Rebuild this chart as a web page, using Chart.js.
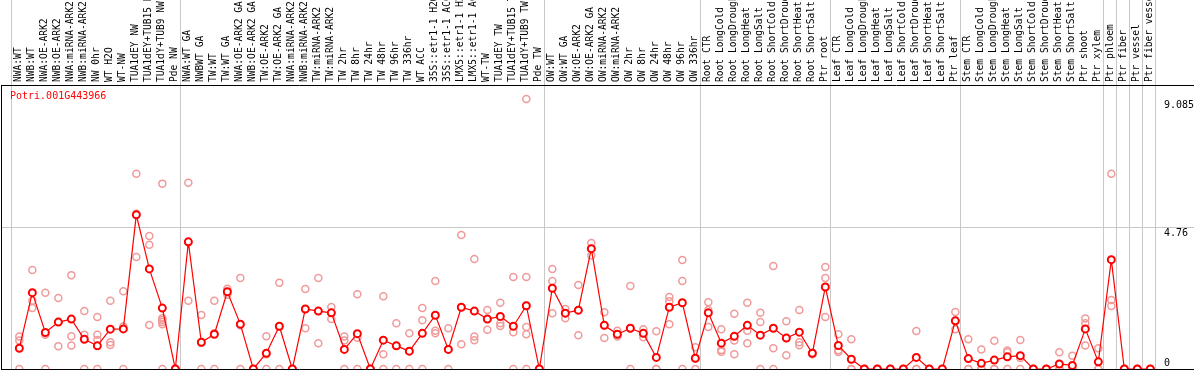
<!DOCTYPE html>
<html>
<head>
<meta charset="utf-8">
<script src="https://cdn.jsdelivr.net/npm/chart.js@4.4.0/dist/chart.umd.min.js"></script>
<style>
  html, body { margin: 0; padding: 0; background: #ffffff; }
  #contenedor { width: 1194px; height: 370px; }
</style>
</head>
<body>
<div id="contenedor"><canvas id="grafico" width="1194" height="370"></canvas></div>
<script>
// Gen mostrado
const gen = "Potri.001G443966";

// Nombres de las muestras (eje superior)
const muestras = [
  "NWA:WT", "NWB:WT", "NWA:OE-ARK2", "NWB:OE-ARK2", "NWA:miRNA-ARK2", "NWB:miRNA-ARK2",
  "NW 0hr", "WT H2O", "WT-NW", "TUA1dEY NW", "TUA1dEY+TUB15 NW", "TUA1dY+TUB9 NW", "Pde NW",
  "NWA:WT GA", "NWBWT GA", "TW:WT", "TW:WT GA", "NWA:OE-ARK2 GA", "NWB:OE-ARK2 GA",
  "TW:OE-ARK2", "TW:OE-ARK2 GA", "NWA:miRNA-ARK2", "NWB:miRNA-ARK2", "TW:miRNA-ARK2",
  "TW:miRNA-ARK2", "TW 2hr", "TW 8hr", "TW 24hr", "TW 48hr", "TW 96hr", "TW 336hr", "WT ACC",
  "35S::etr1-1 H2O", "35S::etr1-1 ACC", "LMX5::etr1-1 H2O", "LMX5::etr1-1 ACC", "WT-TW",
  "TUA1dEY TW", "TUA1dEY+TUB15 TW", "TUA1dY+TUB9 TW", "Pde TW",
  "OW:WT", "OW:WT GA", "OW:OE-ARK2", "OW:OE-ARK2 GA", "OW:miRNA-ARK2", "OW:miRNA-ARK2",
  "OW 2hr", "OW 8hr", "OW 24hr", "OW 48hr", "OW 96hr", "OW 336hr",
  "Root CTR", "Root LongCold", "Root LongDrought", "Root LongHeat", "Root LongSalt",
  "Root ShortCold", "Root ShortDrought", "Root ShortHeat", "Root ShortSalt", "Ptr root",
  "Leaf CTR", "Leaf LongCold", "Leaf LongDrought", "Leaf LongHeat", "Leaf LongSalt",
  "Leaf ShortCold", "Leaf ShortDrought", "Leaf ShortHeat", "Leaf ShortSalt", "Ptr leaf",
  "Stem CTR", "Stem LongCold", "Stem LongDrought", "Stem LongHeat", "Stem LongSalt",
  "Stem ShortCold", "Stem ShortDrought", "Stem ShortHeat", "Stem ShortSalt", "Ptr shoot",
  "Ptr xylem", "Ptr phloem", "Ptr fiber", "Ptr vessel", "Ptr fiber vessel"
];

// Promedio por muestra (linea roja)
const promedio = [
  0.70, 2.57, 1.23, 1.58, 1.68, 1.00, 0.78, 1.34, 1.35, 5.19, 3.37, 2.05, 0,
  4.28, 0.90, 1.17, 2.60, 1.51, 0, 0.53, 1.44, 0, 2.02, 1.95, 1.89, 0.66, 1.19, 0,
  0.97, 0.78, 0.60, 1.20, 1.81, 0.66, 2.08, 1.95, 1.68, 1.77, 1.44, 2.13, 0,
  2.72, 1.88, 1.98, 4.05, 1.47, 1.17, 1.37, 1.20, 0.39, 2.08, 2.23, 0.36,
  1.89, 0.87, 1.10, 1.47, 1.14, 1.37, 1.04, 1.24, 0.53, 2.76,
  0.79, 0.33, 0, 0, 0, 0, 0.39, 0, 0, 1.62,
  0.35, 0.19, 0.30, 0.41, 0.45, 0, 0, 0.17, 0.12, 1.35, 0.24,
  3.68, 0, 0, 0
];

// Replicas por muestra (circulos rosados)
const replicas = [
  [1.09, 0.96, 0], [3.33, 2.30, 2.05], [2.57, 1.15, 0], [2.39, 1.58, 0.77], [3.16, 1.10, 0.79],
  [1.95, 1.15, 0], [1.75, 1.15, 0.98, 0], [2.30, 0.90, 0.81], [2.62, 1.43, 0], [6.57, 5.23, 3.77],
  [4.48, 4.18, 1.48], [6.24, 1.71, 1.65, 1.58, 1.51, 0], [0, 0, 0],
  [6.27, 4.27, 2.30], [1.82, 0.88, 0], [2.30, 1.20, 0], [2.70, 2.60, 2.50], [3.06, 1.47, 0],
  [0, 0, 0], [1.10, 0.50, 0], [2.90, 1.42, 0], [0, 0, 0], [2.69, 2.02, 1.37], [3.06, 1.95, 0.87],
  [2.09, 1.89, 1.68], [1.09, 0.96, 0], [2.52, 1.05, 0], [0, 0, 0], [2.45, 0.50, 0], [1.54, 0.78, 0],
  [1.20, 0.60, 0], [2.05, 1.64, 0], [2.96, 1.29, 1.20], [1.37, 0.66, 0], [4.51, 2.08, 0.83],
  [3.70, 1.09, 0.97], [1.99, 1.68, 1.32], [2.23, 1.54, 1.45], [3.10, 1.24, 0],
  [9.085, 3.10, 2.13, 1.41, 1.17, 0], [0, 0, 0],
  [3.37, 2.96, 1.88], [2.02, 1.88, 1.71], [2.83, 1.98, 1.14], [4.24, 4.05, 3.82], [1.91, 1.47, 1.04],
  [1.29, 1.17, 1.09], [2.79, 1.37, 0], [1.34, 1.20, 1.07], [1.27, 0, 0], [2.42, 2.28, 1.51],
  [3.67, 2.96, 0], [0.73, 0.36, 0],
  [2.25, 1.99, 1.41], [1.34, 0.64, 0.58], [1.86, 0.96, 0.50], [2.23, 1.29, 0.87], [1.89, 1.58, 0],
  [3.47, 0.70, 0], [1.61, 1.04, 0.46], [1.99, 0.90, 0.80], [0.55, 0.53, 0.50], [3.43, 3.06, 1.75],
  [1.17, 0.63, 0.57], [1.00, 0, 0], [0, 0, 0], [0, 0, 0], [0, 0, 0], [0, 0, 0], [1.28, 0, 0],
  [0, 0, 0], [0, 0, 0], [1.92, 1.62, 1.34],
  [1.00, 0, 0], [0.66, 0, 0], [0.95, 0, 0], [0.62, 0.56, 0], [0.98, 0.37, 0], [0, 0, 0], [0, 0, 0],
  [0.56, 0, 0], [0.45, 0, 0], [1.70, 1.54, 0.79], [0.70, 0, 0],
  [6.57, 2.32, 2.12], [0, 0, 0], [0, 0, 0], [0, 0, 0]
];

// Indice donde empieza cada grupo de muestras (lineas verticales)
const inicioGrupos = [0, 13, 41, 53, 63, 73, 84, 85, 86, 87, 88];

// Marcas del eje de valores
const yTicks = [0, 4.76, 9.085];
const yTickLabels = ["0", "4.76", "9.085"];

const fuente = "'DejaVu Sans Mono', monospace";
const gris = "#c8c8c8";
const nada = "rgba(0,0,0,0)";

const puntosReplicas = [];
replicas.forEach((vals, i) => {
  vals.forEach(v => puntosReplicas.push({ x: i, y: v }));
});

const lineasGrupo = inicioGrupos.map(g => g - 0.62);
const esLinea = c => c.tick && !Number.isInteger(c.tick.value);

// quitar el relleno que Chart.js reserva para las etiquetas
const sinRelleno = s => {
  s.paddingLeft = 0; s.paddingRight = 0; s.paddingTop = 0; s.paddingBottom = 0;
};

// nombre del gen dentro del area del grafico, arriba a la izquierda
const tituloGen = {
  id: "tituloGen",
  afterDraw(chart) {
    const { ctx, chartArea } = chart;
    ctx.save();
    ctx.font = "10px 'DejaVu Sans Mono'";
    ctx.fillStyle = "#ff0000";
    ctx.textBaseline = "middle";
    ctx.fillText(gen, chartArea.left + 9, chartArea.top + 11);
    ctx.restore();
  }
};

new Chart(document.getElementById("grafico"), {
  data: {
    datasets: [
      {
        type: "line",
        label: gen,
        data: promedio.map((v, i) => ({ x: i, y: v })),
        borderColor: "#ff0000",
        borderWidth: 1.2,
        pointRadius: 3.5,
        pointBorderWidth: 2,
        pointBorderColor: "#ff0000",
        pointBackgroundColor: "#ffffff",
        tension: 0,
        xAxisID: "x",
        yAxisID: "y"
      },
      {
        type: "scatter",
        label: "replicas",
        data: puntosReplicas,
        borderColor: "#f09a9a",
        backgroundColor: nada,
        pointRadius: 3.5,
        pointBorderWidth: 1.5,
        xAxisID: "x",
        yAxisID: "y"
      }
    ]
  },
  plugins: [tituloGen],
  options: {
    responsive: false,
    animation: false,
    devicePixelRatio: 1,
    layout: { padding: 0, autoPadding: false },
    plugins: {
      legend: { display: false },
      tooltip: { enabled: false }
    },
    scales: {
      x: {
        type: "linear",
        position: "top",
        min: -1.41,
        max: 90.36,
        afterBuildTicks: s => {
          s.ticks = muestras.map((m, i) => ({ value: i }))
            .concat(lineasGrupo.map(v => ({ value: v })));
        },
        afterFit: s => { s.height = 85; sinRelleno(s); },
        grid: {
          color: c => esLinea(c) ? gris : nada,
          tickColor: c => esLinea(c) ? gris : nada,
          tickLength: 85,
          lineWidth: 1
        },
        border: { color: "#000000", width: 1 },
        ticks: {
          autoSkip: false,
          minRotation: 90,
          maxRotation: 90,
          padding: -82,
          labelOffset: 10.5,
          color: "#000000",
          font: { family: fuente, size: 9.6 },
          callback: v => Number.isInteger(v) ? muestras[v] : ""
        }
      },
      xAbajo: {
        type: "linear",
        position: "bottom",
        afterFit: s => { s.height = 1; sinRelleno(s); },
        grid: { drawOnChartArea: false, drawTicks: false },
        ticks: { display: false },
        border: { color: "#000000", width: 1 }
      },
      yIzq: {
        type: "linear",
        position: "left",
        afterFit: s => { s.width = 1; sinRelleno(s); },
        grid: { drawOnChartArea: false, drawTicks: false },
        ticks: { display: false },
        border: { color: "#000000", width: 1 }
      },
      y: {
        type: "linear",
        position: "right",
        min: 0,
        max: 9.56,
        afterBuildTicks: s => { s.ticks = yTicks.map(v => ({ value: v })); },
        afterFit: s => { s.width = 0; sinRelleno(s); },
        grid: {
          color: c => (c.tick && c.tick.value === 4.76) ? gris : nada,
          drawTicks: false
        },
        border: { display: false },
        ticks: {
          mirror: true,
          crossAlign: "far",
          padding: 0,
          color: "#000000",
          font: { family: fuente, size: 10 },
          callback: v => {
            const k = yTicks.indexOf(v);
            return k === 0 ? [yTickLabels[k], ""] : ["", yTickLabels[k]];
          }
        }
      }
    }
  }
});
</script>
</body>
</html>
